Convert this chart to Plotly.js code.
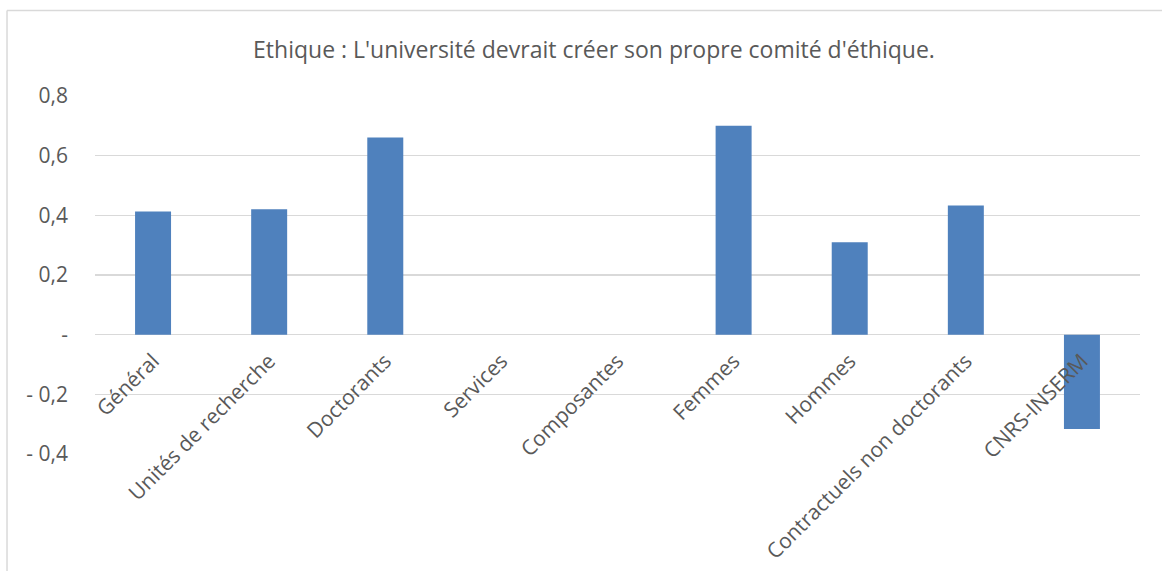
<!DOCTYPE html>
<html>
<head>
<meta charset="utf-8">
<script src="https://cdn.plot.ly/plotly-3.0.1.min.js"></script>
<style>
html,body{margin:0;padding:0;background:#fff;}
#chart{width:1162px;height:571px;}
</style>
</head>
<body>
<div id="chart"></div>
<script>
const categories = ["Général", "Unités de recherche", "Doctorants", "Services", "Composantes", "Femmes", "Hommes", "Contractuels non doctorants", "CNRS-INSERM"];
const values = [0.413, 0.42, 0.661, 0, 0, 0.70, 0.31, 0.433, -0.316];
const yTickVals = [0.8, 0.6, 0.4, 0.2, 0, -0.2, -0.4];
const yTickText = ["0,8", "0,6", "0,4", "0,2", "-", "- 0,2", "- 0,4"];
const titleText = "Ethique : L'université devrait créer son propre comité d'éthique.";

const FONT = "Open Sans, sans-serif";
const TXT = "#595959";
const GRID = "#d9d9d9";

const trace = {
  type: "bar",
  x: categories,
  y: values,
  marker: {color: "#4f81bd", line: {width: 0}},
  hoverinfo: "x+y"
};

const layout = {
  width: 1162, height: 571,
  margin: {l: 95, r: 22, t: 96, b: 117},
  paper_bgcolor: "#ffffff",
  plot_bgcolor: "#ffffff",
  showlegend: false,
  bargap: 0.69,
  font: {family: FONT, color: TXT, size: 21},
  title: {
    text: titleText,
    font: {family: FONT, color: TXT, size: 23},
    xref: "paper", x: 0.4775, xanchor: "center",
    yref: "container", y: 0.912, yanchor: "middle"
  },
  xaxis: {
    type: "category",
    anchor: "free", position: 1/3,
    showline: false, showgrid: false, zeroline: false,
    ticks: "", tickangle: -45,
    ticklabelstandoff: 9,
    tickfont: {family: FONT, color: TXT, size: 21},
    automargin: false
  },
  yaxis: {
    range: [-0.4, 0.8],
    tickvals: yTickVals, ticktext: yTickText,
    showgrid: true, gridcolor: GRID, gridwidth: 1.5,
    zeroline: true, zerolinecolor: GRID, zerolinewidth: 1.5,
    showline: false, ticks: "",
    ticklabelstandoff: 26,
    tickfont: {family: FONT, color: TXT, size: 21},
    automargin: false
  },
  shapes: [
    {type: "line", xref: "paper", yref: "paper", x0: -0.0842, x1: 1.05, y0: 1.2388, y1: 1.2388, line: {color: GRID, width: 1.5}},
    {type: "line", xref: "paper", yref: "paper", x0: -0.0842, x1: -0.0842, y0: 1.2388, y1: -0.4, line: {color: GRID, width: 1.5}}
  ]
};

Plotly.newPlot("chart", [trace], layout, {displayModeBar: false, staticPlot: true});
</script>
</body>
</html>
